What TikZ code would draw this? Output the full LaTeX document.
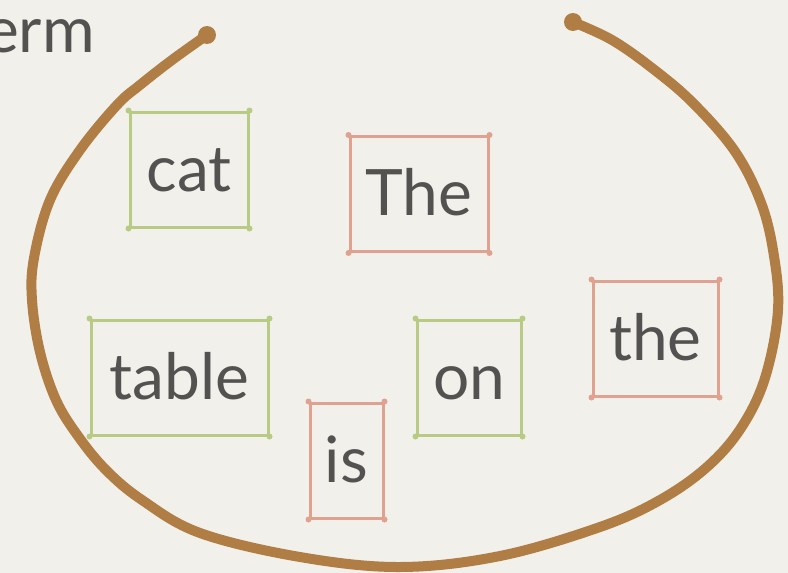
\documentclass[tikz,border=0pt]{standalone}
\usepackage{fontspec}
\setmainfont{Lato}
\definecolor{bg}{HTML}{F1F0EB}
\definecolor{ink}{HTML}{545250}
\definecolor{wgreen}{HTML}{B8CB84}
\definecolor{wsalmon}{HTML}{E0A290}
\definecolor{ring}{HTML}{B07D45}
\begin{document}
\begin{tikzpicture}[x=1pt,y=-1pt,
  word/.style={draw=#1, line width=3pt, inner sep=0pt, text=ink,
    font=\fontsize{64}{64}\selectfont, text height=43pt, text depth=0pt,
    minimum height=115pt},
  label/.style={text=ink, inner sep=0pt, font=\fontsize{64}{64}\selectfont}]
\fill[bg] (0,0) rectangle (788,573);
\useasboundingbox (0,0) rectangle (788,573);
% words
\node[word=wgreen, minimum width=118pt] (cat) at (189,169.5) {cat};
\node[word=wsalmon, minimum width=138pt] (The) at (419,194) {The};
\node[word=wgreen, minimum width=177pt] (table) at (179.5,377.5) {table};
\node[word=wgreen, minimum width=104pt] (on) at (469,377.5) {on};
\node[word=wsalmon, minimum width=125pt] (the) at (655.5,338.5) {the};
\node[word=wsalmon, minimum width=73pt] (is) at (346.5,460.5) {is};
\foreach \n/\c in {cat/wgreen,The/wsalmon,table/wgreen,on/wgreen,the/wsalmon,is/wsalmon}{
  \foreach \a in {north west,north east,south west,south east}
    \fill[\c] (\n.\a) circle (3pt);
}
% cut-off label
\node[label, anchor=base east] (erm) at (95,52) {erm};
% ring
\draw[ring, line width=10pt, line cap=round, line join=round]
  plot[smooth, tension=0.6] coordinates {
  (207,35) (172,60) (140,85) (117,105) (80,150) (50,200) (34,258) (32,300)
  (40,352) (56,400) (78,436) (106,470) (142,500) (200,533) (300,557)
  (400,567) (500,556) (600,527) (660,500) (707,467) (741,428) (765,378)
  (778,310) (773,250) (760,200) (734,150) (692,102) (652,68) (612,40) (573,22)};
\coordinate (endL) at (207,35);
\coordinate (endR) at (573,22);
\fill[ring] (endL) circle (9pt);
\fill[ring] (endR) circle (9pt);
\end{tikzpicture}
\end{document}
